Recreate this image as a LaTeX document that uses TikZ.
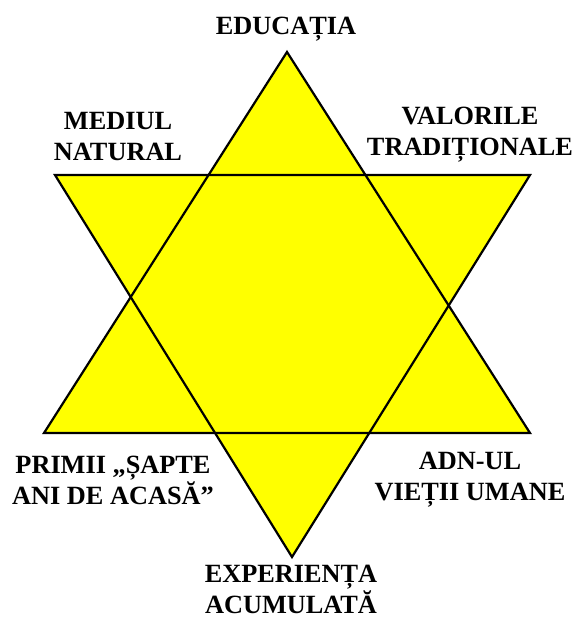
\documentclass[tikz,border=0pt]{standalone}
\usepackage{fontspec}
\setmainfont{Liberation Serif}
\definecolor{staryellow}{RGB}{255,255,0}
\begin{document}
\begin{tikzpicture}[x=1pt,y=-1pt,
  lbl/.style={font=\fontsize{26.3}{31}\selectfont\bfseries, align=center, inner sep=0pt, anchor=center},
  tri/.style={fill=staryellow},
  edge/.style={draw=black, line width=2.2pt, line join=miter}]
\fill[white] (0,0) rectangle (576,619);
\useasboundingbox (0,0) rectangle (576,619);
% corners
\coordinate (UA) at (287,52);
\coordinate (UL) at (44,433);
\coordinate (UR) at (530,433);
\coordinate (DL) at (55,175);
\coordinate (DR) at (530,175);
\coordinate (DA) at (292,557);
\fill[tri] (UA) -- (UL) -- (UR) -- cycle;
\fill[tri] (DL) -- (DR) -- (DA) -- cycle;
\draw[edge] (UA) -- (UL) -- (UR) -- cycle;
\draw[edge] (DL) -- (DR) -- (DA) -- cycle;
% labels
\node[lbl] (edu) at (286,29) {EDUCAȚIA};
\node[lbl] (med) at (118,137) {MEDIUL\\NATURAL};
\node[lbl] (val) at (470,135) {VALORILE\\TRADIȚIONALE};
\node[lbl] (pri) at (113,480) {PRIMII „ȘAPTE\\ANI DE ACASĂ”};
\node[lbl] (adn) at (470,480) {ADN-UL\\VIEȚII UMANE};
\node[lbl] (exp) at (291,589) {EXPERIENȚA\\ACUMULATĂ};
\end{tikzpicture}
\end{document}
